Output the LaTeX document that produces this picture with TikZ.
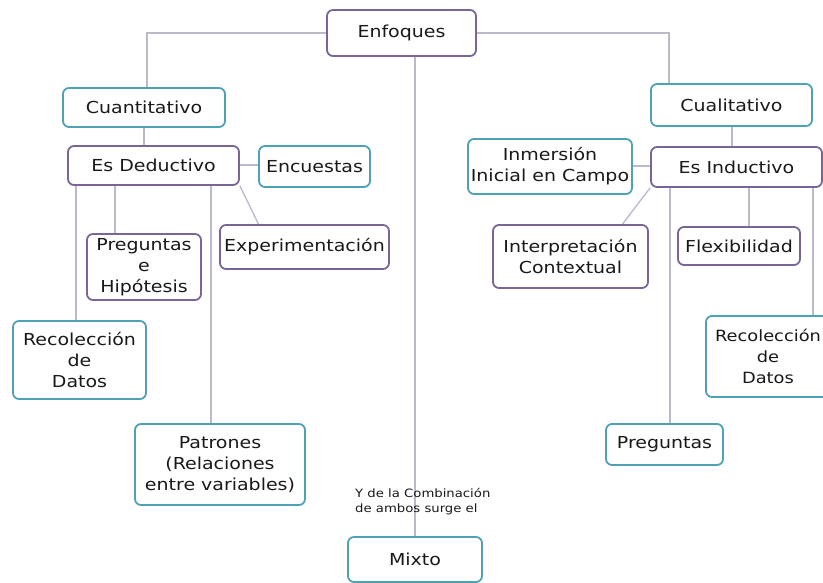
\documentclass[tikz,border=0pt]{standalone}
\usepackage{fontspec}
\setmainfont[FakeStretch=1.15]{DejaVu Sans}
\usetikzlibrary{backgrounds}
\definecolor{purp}{RGB}{122,102,150}
\definecolor{teal2}{RGB}{78,162,182}
\definecolor{lnk}{RGB}{190,184,205}
\begin{document}
\begin{tikzpicture}[x=1pt,y=-1pt,
  box/.style={draw, line width=1.8pt, rounded corners=6pt, fill=white, align=center,
    inner sep=0pt, font=\fontsize{16.5}{21}\selectfont, text=black!90},
  pbox/.style={box, draw=purp},
  tbox/.style={box, draw=teal2},
  conn/.style={draw=lnk, line width=1.3pt}]
\clip (0,0) rectangle (823,583);
% nodes
\node[pbox, minimum width=149pt, minimum height=46pt] (enf) at (401.5,33) {Enfoques};
\node[tbox, minimum width=162pt, minimum height=39pt] (cuan) at (144,107.5) {Cuantitativo};
\node[pbox, minimum width=171pt, minimum height=39pt] (ded) at (153.5,165.5) {Es Deductivo};
\node[tbox, minimum width=111pt, minimum height=41pt] (enc) at (314.5,166.5) {Encuestas};
\node[pbox, minimum width=114pt, minimum height=66pt] (preg) at (144,267) {Preguntas\\e\\Hipótesis};
\node[pbox, minimum width=169pt, minimum height=44pt] (exp) at (304.5,247) {Experimentación};
\node[tbox, minimum width=133pt, minimum height=78pt] (recl) at (79.5,360) {Recolección\\de\\Datos};
\node[tbox, minimum width=170pt, minimum height=81pt] (pat) at (220,464.5) {Patrones\\(Relaciones\\entre variables)};
\node[tbox, minimum width=134pt, minimum height=45pt] (mix) at (415,559.5) {Mixto};
\node[tbox, minimum width=161pt, minimum height=42pt] (cual) at (731.5,105) {Cualitativo};
\node[pbox, minimum width=171pt, minimum height=40pt] (ind) at (736.5,167) {Es Inductivo};
\node[tbox, minimum width=164pt, minimum height=55pt] (inm) at (550,166.5) {Inmersión\\Inicial en Campo};
\node[pbox, minimum width=155pt, minimum height=63pt] (int) at (570.5,256.5) {Interpretación\\Contextual};
\node[pbox, minimum width=122pt, minimum height=38pt] (flex) at (739,246) {Flexibilidad};
\node[tbox, minimum width=117pt, minimum height=41pt] (pregr) at (664.5,444.5) {Preguntas};
\node[tbox, minimum width=124pt, minimum height=81pt, font=\fontsize{15.5}{21}\selectfont] (recr) at (768,356.5) {Recolección\\de\\Datos};
\node[anchor=north west, align=left, inner sep=0pt, font=\fontsize{11.5}{15}\selectfont, text=black!90] (ylab) at (355,488) {Y de la Combinación\\de ambos surge el};
% helper x positions
\coordinate (x147) at (147,0);
\coordinate (x669) at (669,0);
\coordinate (x415) at (415,0);
\coordinate (x144) at (144,0);
\coordinate (x76) at (76,0);
\coordinate (x115) at (115,0);
\coordinate (x211) at (211,0);
\coordinate (x732) at (732,0);
\coordinate (x670) at (670,0);
\coordinate (x749) at (749,0);
\coordinate (x813) at (813,0);
\coordinate (y165) at (0,165);
\coordinate (y166) at (0,166);
\begin{scope}[on background layer]
\fill[white] (0,0) rectangle (823,583);
\draw[conn] (enf.west) -| (cuan.north -| x147);
\draw[conn] (enf.east) -| (cual.north -| x669);
\draw[conn] (enf.south -| x415) -- (mix.north -| x415);
\draw[conn] (cuan.south -| x144) -- (ded.north -| x144);
\draw[conn] (ded.east |- y165) -- (enc.west |- y165);
\draw[conn] (ded.south -| x76) -- (recl.north -| x76);
\draw[conn] (ded.south -| x115) -- (preg.north -| x115);
\draw[conn] (ded.south -| x211) -- (pat.north -| x211);
\draw[conn] (ded.south east) -- ([xshift=-46pt]exp.north);
\draw[conn] (cual.south -| x732) -- (ind.north -| x732);
\draw[conn] (inm.east |- y166) -- (ind.west |- y166);
\draw[conn] (ind.south west) -- ([xshift=52pt]int.north);
\draw[conn] (ind.south -| x670) -- (pregr.north -| x670);
\draw[conn] (ind.south -| x749) -- (flex.north -| x749);
\draw[conn] (ind.south -| x813) -- (recr.north -| x813);
\end{scope}
\end{tikzpicture}
\end{document}
